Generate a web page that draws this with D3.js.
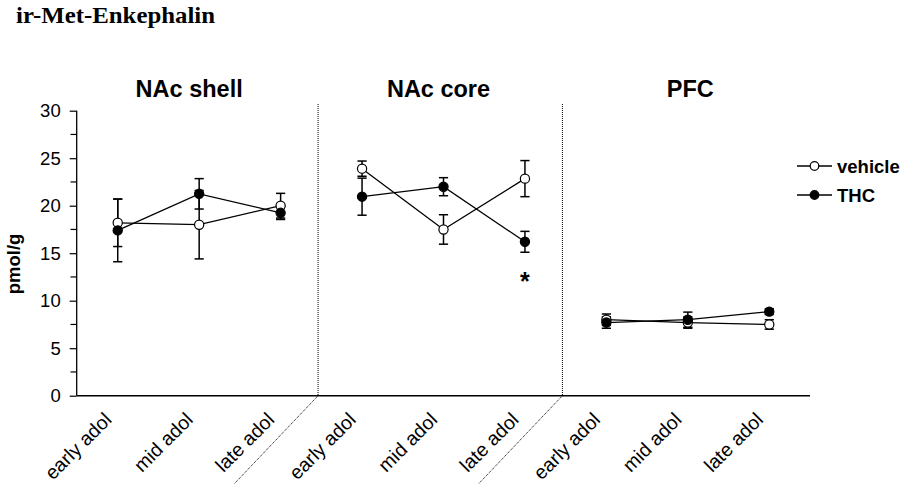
<!DOCTYPE html>
<html><head><meta charset="utf-8">
<script src="https://cdn.jsdelivr.net/npm/d3@7"></script>
<style>body{margin:0;background:#fff}svg{display:block}</style>
</head><body>
<script>
const regions = ["NAc shell", "NAc core", "PFC"];
const ages = ["early adol", "mid adol", "late adol"];
const series = ["vehicle", "THC"];
// means per region (3 ages each)
const vehicleMean = [[18.2, 18.0, 20.0], [23.9, 17.5, 22.85], [8.0, 7.7, 7.5]];
const vehicleErr  = [[2.5, 3.6, 1.3],   [0.8, 1.55, 1.9],    [0.6, 0.6, 0.5]];
const thcMean     = [[17.4, 21.25, 19.25], [20.95, 22.0, 16.2], [7.7, 8.0, 8.85]];
const thcErr      = [[3.3, 1.6, 0.7],      [1.95, 0.95, 1.1],   [0.6, 0.8, 0.3]];
const yTicks = [0, 5, 10, 15, 20, 25, 30];
const yMinor = [2.5, 7.5, 12.5, 17.5, 22.5, 27.5];
const sigMarks = [{region: 1, age: 2, label: "*"}];
const title = "ir-Met-Enkephalin";
const yLabel = "pmol/g";

const W = 903, H = 485;
const svg = d3.select("body").append("svg").attr("width", W).attr("height", H);
const SANS = "Arial, 'Liberation Sans', sans-serif";

const cats = [];
regions.forEach((r, ri) => ages.forEach((a, ai) => cats.push(ri + "|" + ai)));
const x = d3.scaleBand().domain(cats).range([77, 810]);
const xc = (ri, ai) => x(ri + "|" + ai) + x.bandwidth() / 2;
const y = d3.scaleLinear().domain([0, 30]).range([395.7, 110.7]);

// title
svg.append("text").attr("x", 16).attr("y", 23)
  .attr("font-family", "'Liberation Serif','Times New Roman',serif")
  .attr("font-weight", "bold").attr("font-size", 22.5)
  .attr("textLength", 199).attr("lengthAdjust", "spacingAndGlyphs")
  .text(title);

// y axis
const yAxis = svg.append("g").attr("transform", "translate(76.7,0)")
  .call(d3.axisLeft(y).tickValues(yTicks).tickSize(7).tickPadding(9).tickFormat(d3.format("d")));
yAxis.select(".domain").attr("stroke", "#000").attr("stroke-width", 1.3).attr("d", `M0,${y(30)}V${y(0)}`);
yAxis.selectAll(".tick line").attr("stroke-width", 1.2);
yAxis.selectAll(".tick text").attr("font-family", SANS)
  .attr("font-size", 18.5).attr("fill", "#000");
svg.append("g").selectAll("line").data(yMinor).join("line")
  .attr("x1", 70.5).attr("x2", 76.7).attr("y1", d => y(d)).attr("y2", d => y(d))
  .attr("stroke", "#000").attr("stroke-width", 1.2);

svg.append("text").attr("transform", `translate(20,264) rotate(-90)`)
  .attr("text-anchor", "middle")
  .attr("font-family", SANS)
  .attr("font-weight", "bold").attr("font-size", 18.5).text(yLabel);

// x axis line
svg.append("line").attr("x1", 76.7).attr("x2", 810).attr("y1", y(0)).attr("y2", y(0))
  .attr("stroke", "#000").attr("stroke-width", 1.5);

// separators
[0, 1].forEach(ri => {
  const sx = xc(ri, 2) + x.step() * 0.46;
  svg.append("line").attr("x1", sx).attr("x2", sx).attr("y1", 104).attr("y2", y(0))
    .attr("stroke", "#000").attr("stroke-width", 1).attr("stroke-dasharray", "1,1");
  svg.append("line").attr("x1", sx).attr("x2", sx - 84).attr("y1", y(0)).attr("y2", 484)
    .attr("stroke", "#000").attr("stroke-width", 1).attr("stroke-dasharray", "1,1");
});

// x labels
regions.forEach((r, ri) => ages.forEach((a, ai) => {
  svg.append("text")
    .attr("transform", `translate(${xc(ri, ai) - 5},421) rotate(-45)`)
    .attr("text-anchor", "end")
    .attr("font-family", SANS)
    .attr("font-size", 19.5).text(a);
}));

// region titles
const titleOffsets = [-10, -5, 2.5];
regions.forEach((r, ri) => {
  svg.append("text").attr("x", xc(ri, 1) + titleOffsets[ri]).attr("y", 96.7)
    .attr("text-anchor", "middle")
    .attr("font-family", SANS)
    .attr("font-weight", "bold").attr("font-size", 23.5).text(r);
});

// data
const groups = [
  {name: "vehicle", mean: vehicleMean, err: vehicleErr, fill: "#fff"},
  {name: "THC", mean: thcMean, err: thcErr, fill: "#000"}
];
const line = d3.line().x(d => d[0]).y(d => d[1]);
const capW = 4.6;
groups.forEach(g => {
  regions.forEach((r, ri) => {
    ages.forEach((a, ai) => {
      const cx = xc(ri, ai), m = g.mean[ri][ai], e = g.err[ri][ai];
      const eg = svg.append("g").attr("stroke", "#000").attr("stroke-width", 1.5);
      eg.append("line").attr("x1", cx).attr("x2", cx).attr("y1", y(m + e)).attr("y2", y(m - e));
      eg.append("line").attr("x1", cx - capW).attr("x2", cx + capW).attr("y1", y(m + e)).attr("y2", y(m + e));
      eg.append("line").attr("x1", cx - capW).attr("x2", cx + capW).attr("y1", y(m - e)).attr("y2", y(m - e));
    });
  });
});
groups.forEach(g => {
  regions.forEach((r, ri) => {
    const pts = ages.map((a, ai) => [xc(ri, ai), y(g.mean[ri][ai])]);
    svg.append("path").attr("d", line(pts)).attr("fill", "none")
      .attr("stroke", "#000").attr("stroke-width", 1.3);
  });
});
groups.forEach(g => {
  regions.forEach((r, ri) => {
    ages.forEach((a, ai) => {
      svg.append("circle").attr("cx", xc(ri, ai)).attr("cy", y(g.mean[ri][ai])).attr("r", 4.6)
        .attr("fill", g.fill).attr("stroke", "#000").attr("stroke-width", 1.2);
    });
  });
});

// significance
sigMarks.forEach(s => {
  svg.append("text").attr("x", xc(s.region, s.age)).attr("y", 290)
    .attr("text-anchor", "middle")
    .attr("font-family", SANS)
    .attr("font-weight", "bold").attr("font-size", 25).text(s.label);
});

// legend
const legY = [166, 195];
groups.forEach((g, i) => {
  const lg = svg.append("g");
  lg.append("line").attr("x1", 797).attr("x2", 832).attr("y1", legY[i]).attr("y2", legY[i])
    .attr("stroke", "#000").attr("stroke-width", 1.3);
  lg.append("circle").attr("cx", 814.5).attr("cy", legY[i]).attr("r", 4.3)
    .attr("fill", g.fill).attr("stroke", "#000").attr("stroke-width", 1.2);
  lg.append("text").attr("x", 837).attr("y", legY[i] + 6.5)
    .attr("font-family", SANS)
    .attr("font-weight", "bold").attr("font-size", 18.5).text(g.name);
});
</script>
</body></html>
